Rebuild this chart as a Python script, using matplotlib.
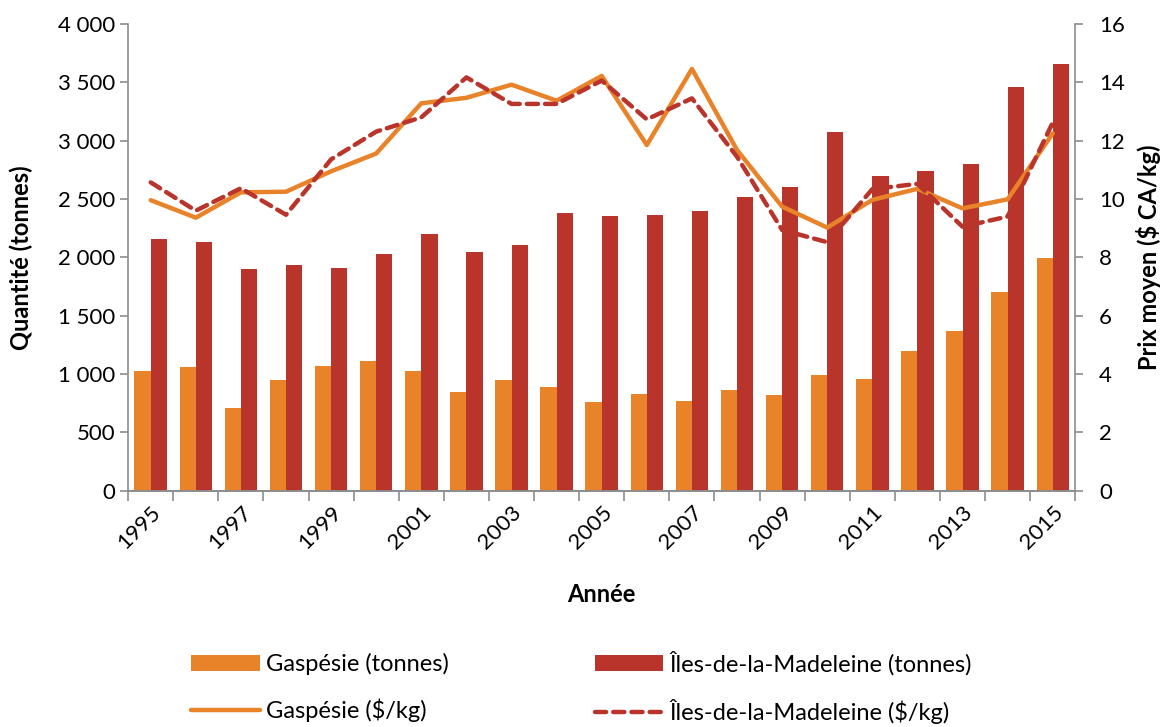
import numpy as np
import matplotlib
matplotlib.use("Agg")
import matplotlib.pyplot as plt
from matplotlib.ticker import FuncFormatter, FixedLocator

plt.rcParams['font.family'] = ['Lato', 'DejaVu Sans']

years = list(range(1995, 2016))
gasp_tonnes = [1030, 1060, 705, 948, 1068, 1113, 1025, 845, 951, 893, 760,
               831, 768, 865, 822, 991, 959, 1199, 1370, 1702, 1998]
iles_tonnes = [2158, 2133, 1901, 1938, 1910, 2033, 2198, 2044, 2104, 2384, 2358,
               2364, 2398, 2515, 2604, 3072, 2695, 2741, 2801, 3458, 3660]
gasp_prix = [9.96, 9.36, 10.23, 10.25, 10.95, 11.56, 13.28, 13.47, 13.92, 13.37, 14.22,
             11.85, 14.46, 11.68, 9.74, 9.02, 9.97, 10.35, 9.68, 9.99, 12.25]
iles_prix = [10.57, 9.6, 10.37, 9.46, 11.36, 12.31, 12.8, 14.17, 13.26, 13.26, 14.06,
             12.73, 13.45, 11.45, 8.94, 8.52, 10.34, 10.52, 9.05, 9.4, 12.62]

orange = '#E8832A'
rouge = '#B9352B'
gris = '#8C8C8C'

fig = plt.figure(figsize=(11.65, 7.27), dpi=100)
ax = fig.add_axes([0.110, 0.325, 0.813, 0.642])
ax2 = ax.twinx()

x = np.arange(len(years))
w = 0.36
b1 = ax.bar(x - w / 2, gasp_tonnes, w, color=orange, label='Gaspésie (tonnes)', zorder=2)
b2 = ax.bar(x + w / 2, iles_tonnes, w, color=rouge, label='Îles-de-la-Madeleine (tonnes)', zorder=2)

l1, = ax2.plot(x, gasp_prix, color=orange, lw=3.2, label='Gaspésie ($/kg)', solid_capstyle='round')
l2, = ax2.plot(x, iles_prix, color=rouge, lw=3.2, ls=(0, (2.5, 1.6)), label='Îles-de-la-Madeleine ($/kg)',
               dash_capstyle='round')

ax.set_xlim(-0.5, len(years) - 0.5)
ax.set_ylim(0, 4000)
ax2.set_ylim(0, 16)
ax.set_yticks(range(0, 4001, 500))
ax2.set_yticks(range(0, 17, 2))
ax.yaxis.set_major_formatter(FuncFormatter(lambda v, p: f"{int(v):,}".replace(",", " ")))

# x ticks between categories, labels every other year
ax.xaxis.set_major_locator(FixedLocator(np.arange(-0.5, len(years), 1)))
ax.set_xticklabels([])
ax.set_xticks(x[::2], minor=True)
ax.set_xticklabels([str(y) for y in years[::2]], minor=True, rotation=45, ha='right',
                   rotation_mode='anchor', fontsize=16)
ax.tick_params(axis='x', which='minor', length=0, pad=8)
ax.tick_params(axis='x', which='major', length=7, color=gris, width=1.2)

for a in (ax, ax2):
    for s in a.spines.values():
        s.set_color(gris)
        s.set_linewidth(1.2)
    a.spines['top'].set_visible(False)
    a.tick_params(axis='y', length=6, color=gris, width=1.2, labelsize=16)
ax2.spines['left'].set_visible(False)
ax.spines['right'].set_visible(False)
ax2.tick_params(axis='y', pad=11)

ax.set_ylabel('Quantité (tonnes)', fontsize=17, fontweight='bold', labelpad=18)
ax2.set_ylabel('Prix moyen ($ CA/kg)', fontsize=17, fontweight='bold', labelpad=8)
ax.set_xlabel('Année', fontsize=17, fontweight='bold', labelpad=22)

fig.legend(handles=[b1, l1, b2, l2], ncol=2, loc='upper left', bbox_to_anchor=(0.146, 0.134),
           frameon=False, fontsize=17, handlelength=2.9, handletextpad=0.25,
           columnspacing=6.2, labelspacing=1.0)

fig.savefig('out.png', dpi=100)
